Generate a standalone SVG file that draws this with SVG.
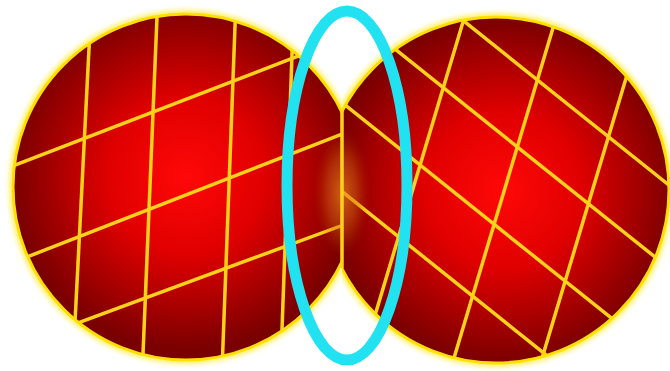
<svg xmlns="http://www.w3.org/2000/svg" width="670" height="371" viewBox="0 0 670 371">
  <defs>
    <radialGradient id="redL" cx="0.5" cy="0.47" r="0.5">
      <stop offset="0" stop-color="#ff0808"/>
      <stop offset="0.45" stop-color="#e00000"/>
      <stop offset="1" stop-color="#7a0000"/>
    </radialGradient>
    <radialGradient id="redR" cx="0.52" cy="0.5" r="0.5">
      <stop offset="0" stop-color="#ff0808"/>
      <stop offset="0.45" stop-color="#e00000"/>
      <stop offset="1" stop-color="#7a0000"/>
    </radialGradient>
    <radialGradient id="lensGrad" cx="0.5" cy="0.5" r="0.5">
      <stop offset="0" stop-color="#f09020" stop-opacity="0.7"/>
      <stop offset="0.6" stop-color="#d06010" stop-opacity="0.45"/>
      <stop offset="1" stop-color="#b04000" stop-opacity="0"/>
    </radialGradient>
    <clipPath id="halfL"><rect x="0" y="0" width="342" height="371"/></clipPath>
    <clipPath id="halfR"><rect x="342" y="0" width="328" height="371"/></clipPath>
    <clipPath id="discL"><circle cx="186" cy="187" r="173"/></clipPath>
    <clipPath id="discR"><circle cx="496" cy="190" r="173"/></clipPath>
    <filter id="glow" x="-20%" y="-20%" width="140%" height="140%">
      <feGaussianBlur stdDeviation="2.2"/>
    </filter>
    <filter id="soft" x="-50%" y="-20%" width="200%" height="140%">
      <feGaussianBlur stdDeviation="3"/>
    </filter>
    <style>
      .grid { stroke: #ffd21a; stroke-width: 3.5; fill: none; stroke-linecap: butt; }
      .halo { fill: none; stroke: #fff27a; stroke-width: 9; }
      .rim { fill: none; stroke: #ffe000; stroke-width: 3; }
    </style>
  </defs>

  <rect width="670" height="371" fill="#ffffff"/>

  <g id="left-circle" clip-path="url(#halfL)">
    <circle cx="186" cy="187" r="173" class="halo" filter="url(#glow)"/>
    <circle cx="186" cy="187" r="173" fill="url(#redL)"/>
    <g clip-path="url(#discL)">
      <line class="grid" x1="91.5" y1="0" x2="72.5" y2="371"/>
      <line class="grid" x1="157.7" y1="0" x2="142.3" y2="371"/>
      <line class="grid" x1="236" y1="0" x2="222" y2="371"/>
      <line class="grid" x1="294" y1="0" x2="280.5" y2="371"/>
      <line class="grid" x1="0" y1="170.8" x2="345" y2="38"/>
      <line class="grid" x1="0" y1="267.5" x2="345" y2="133"/>
      <line class="grid" x1="0" y1="351.7" x2="345" y2="224.4"/>
    </g>
    <circle cx="186" cy="187" r="173" class="rim"/>
  </g>

  <g id="right-circle" clip-path="url(#halfR)">
    <circle cx="496" cy="190" r="173" class="halo" filter="url(#glow)"/>
    <circle cx="496" cy="190" r="173" fill="url(#redR)"/>
    <g clip-path="url(#discR)">
      <line class="grid" x1="469.6" y1="0" x2="358.3" y2="371"/>
      <line class="grid" x1="561.4" y1="0" x2="450.1" y2="371"/>
      <line class="grid" x1="649.5" y1="0" x2="538.2" y2="371"/>
      <line class="grid" x1="340" y1="-78" x2="670" y2="186"/>
      <line class="grid" x1="340" y1="5" x2="670" y2="269"/>
      <line class="grid" x1="340" y1="101" x2="670" y2="365"/>
      <line class="grid" x1="340" y1="190" x2="670" y2="454"/>
    </g>
    <circle cx="496" cy="190" r="173" class="rim"/>
  </g>

  <g id="lens">
    <ellipse cx="342" cy="193" rx="26" ry="62" fill="url(#lensGrad)" filter="url(#soft)"/>
    <line x1="342" y1="110" x2="342" y2="268" stroke="#ffd21a" stroke-width="3.5"/>
  </g>

  <g id="ring">
    <ellipse cx="347" cy="185.5" rx="60" ry="174.5" fill="none" stroke="#22e2f2" stroke-width="11"/>
  </g>
</svg>
